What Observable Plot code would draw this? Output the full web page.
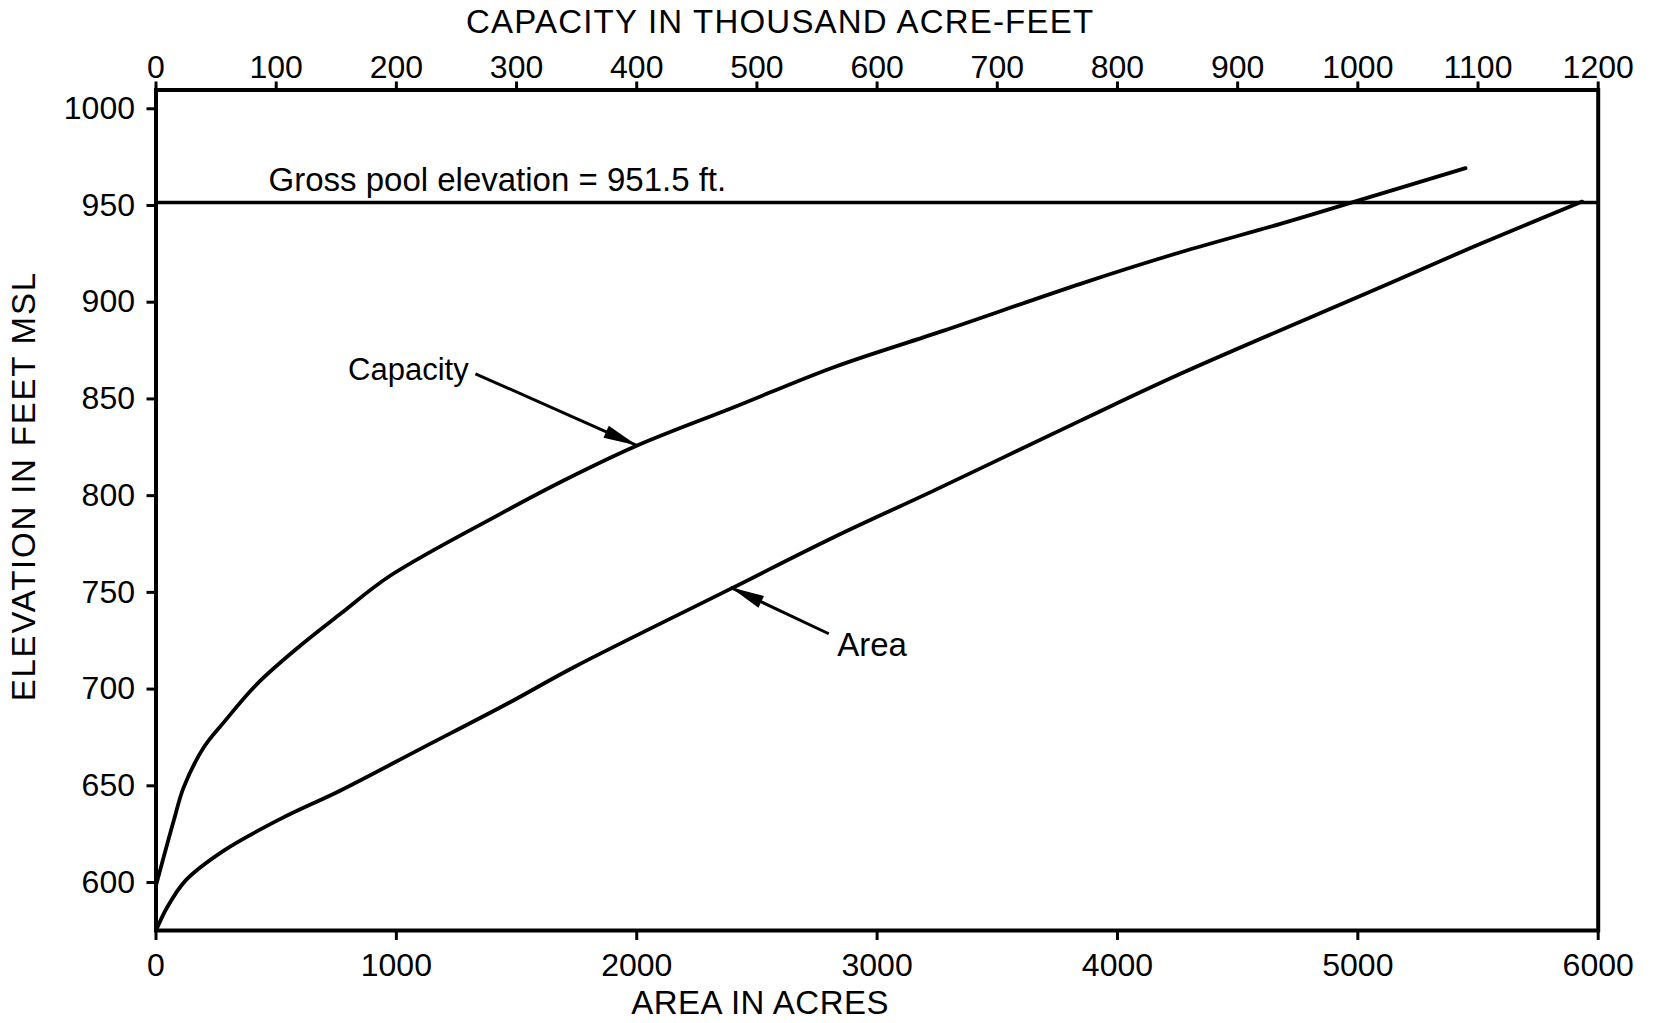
<!DOCTYPE html>
<html><head><meta charset="utf-8">
<script src="https://cdn.jsdelivr.net/npm/d3@7"></script>
<script src="https://cdn.jsdelivr.net/npm/@observablehq/plot@0.6"></script>
<style>
html,body{margin:0;padding:0;background:#fff;}
#chart{width:1662px;height:1023px;overflow:hidden;}
</style></head><body><div id="chart"></div>
<script>
// ---- data ----
const capacityKaf = [0, 14.8, 23.1, 39.8, 56.4, 84.2, 120.2, 153.5, 195.1, 286.6, 342.1, 400.4, 480.8, 564.0, 655.5, 769.2, 852.4, 935.6, 991.1, 1089.6];
const capacityElev = [598.5, 632.1, 649.3, 669.9, 682.8, 702.7, 722.5, 738.9, 758.7, 790.6, 808.7, 825.9, 845.7, 866.4, 885.3, 909.5, 925.8, 940.5, 950.8, 969.3];
const areaAcres = [0, 46.6, 122.7, 282.1, 518.0, 767.6, 1100.4, 1461.1, 1738.2, 2390.1, 2819.8, 3235.9, 3846.2, 4262.2, 5094.3, 5510.3, 5933.5];
const areaElev = [575.2, 587.2, 601.0, 616.5, 632.9, 647.6, 669.1, 692.4, 711.3, 751.8, 778.5, 802.6, 838.8, 863.0, 907.7, 930.2, 952.0];
const grossPool = 951.5;

const areaTicks = [0, 1000, 2000, 3000, 4000, 5000, 6000];
const capacityTicks = [0, 100, 200, 300, 400, 500, 600, 700, 800, 900, 1000, 1100, 1200];
const elevTicks = [600, 650, 700, 750, 800, 850, 900, 950, 1000];
const capacityPerArea = 1200 / 6000; // top axis shares the frame with the bottom axis

const titleTop = "CAPACITY IN THOUSAND ACRE-FEET";
const titleBottom = "AREA IN ACRES";
const titleLeft = "ELEVATION IN FEET MSL";

const noteText = ["Gross pool elevation = 951.5 ft.", "Capacity", "Area"];
const noteArea = [468, 1301, 2834];
const noteElev = [963.2, 864.7, 722.5];
const noteAnchor = ["start", "end", "start"];

const leaderFromArea = [1329, 2799];
const leaderFromElev = [863.0, 728.6];
const leaderToArea = [2002, 2390];
const leaderToElev = [825.9, 752.6];

// ---- tables ----
const capacityRows = capacityKaf.map((c, i) => ({xpos: c / capacityPerArea, elev: capacityElev[i]}));
const areaRows = areaAcres.map((a, i) => ({xpos: a, elev: areaElev[i]}));
const notes = noteText.map((t, i) => ({text: t, x: noteArea[i], y: noteElev[i], anchor: noteAnchor[i]}));
const leaders = leaderFromArea.map((a, i) => ({x1: a, y1: leaderFromElev[i], x2: leaderToArea[i], y2: leaderToElev[i]}));

const NS = "http://www.w3.org/2000/svg";
function dart(len, half) {
  return function (color, context) {
    const doc = (context && context.document) || document;
    const m = doc.createElementNS(NS, "marker");
    m.setAttribute("viewBox", `${-len - 1} ${-half - 1} ${len + 2} ${2 * half + 2}`);
    m.setAttribute("markerWidth", len + 2);
    m.setAttribute("markerHeight", 2 * half + 2);
    m.setAttribute("markerUnits", "userSpaceOnUse");
    m.setAttribute("refX", 0);
    m.setAttribute("refY", 0);
    m.setAttribute("orient", "auto");
    const p = doc.createElementNS(NS, "path");
    p.setAttribute("d", `M0,0L${-len},${-half}L${-len},${half}Z`);
    p.setAttribute("fill", color);
    p.setAttribute("stroke", "none");
    m.appendChild(p);
    return m;
  };
}

const font = "'Liberation Sans', Arial, sans-serif";
const chart = Plot.plot({
  width: 1662,
  height: 1023,
  marginLeft: 155.5,
  marginRight: 64.3,
  marginTop: 89.5,
  marginBottom: 93,
  style: {fontFamily: font, fontSize: "32px", color: "#000", background: "#fff", overflow: "visible"},
  x: {domain: [0, 6000]},
  y: {domain: [575.2, 1009.7]},
  marks: [
    Plot.axisX({ticks: areaTicks, anchor: "bottom", tickSize: 10, tickPadding: 13, strokeWidth: 3, label: null, tickFormat: d3.format("d"), fontSize: 32}),
    Plot.axisX({ticks: capacityTicks.map(c => c / capacityPerArea), anchor: "top", tickSize: 9, tickPadding: 3.5, strokeWidth: 3, label: null, tickFormat: d => String(Math.round(d * capacityPerArea)), fontSize: 32}),
    Plot.axisY({ticks: elevTicks, anchor: "left", tickSize: 9, tickPadding: 12, strokeWidth: 3, label: null, tickFormat: d3.format("d"), fontSize: 32}),
    Plot.frame({strokeWidth: 4}),
    Plot.ruleY([grossPool], {strokeWidth: 3.5}),
    Plot.line(areaRows, {x: "xpos", y: "elev", curve: "catmull-rom", strokeWidth: 3.8}),
    Plot.line(capacityRows, {x: "xpos", y: "elev", curve: "catmull-rom", strokeWidth: 3.8}),
    Plot.link(leaders, {x1: "x1", y1: "y1", x2: "x2", y2: "y2", strokeWidth: 3, markerEnd: dart(34, 6.5)}),
    Plot.text(notes.filter(d => d.anchor === "start"), {x: "x", y: "y", text: "text", textAnchor: "start", fontSize: 33}),
    Plot.text(notes.filter(d => d.anchor === "end"), {x: "x", y: "y", text: "text", textAnchor: "end", fontSize: 31}),
    Plot.text([titleTop], {frameAnchor: "top", textAnchor: "middle", lineAnchor: "middle", dx: -97, dy: -67.8, fontSize: 33}),
    Plot.text([titleBottom], {frameAnchor: "bottom", textAnchor: "middle", lineAnchor: "middle", dx: -117, dy: 72.7, fontSize: 33}),
    Plot.text([titleLeft], {frameAnchor: "left", textAnchor: "middle", lineAnchor: "middle", dx: -132, dy: -24, rotate: -90, fontSize: 33})
  ]
});
// widen the hand-lettered titles a little (letter spacing)
const spacing = new Map([[titleTop, "1.2px"], [titleBottom, "0.5px"], [titleLeft, "1.8px"]]);
chart.querySelectorAll("text").forEach(t => {
  const s = spacing.get(t.textContent);
  if (s) t.style.letterSpacing = s;
});
document.getElementById("chart").appendChild(chart);
</script>
</body></html>
